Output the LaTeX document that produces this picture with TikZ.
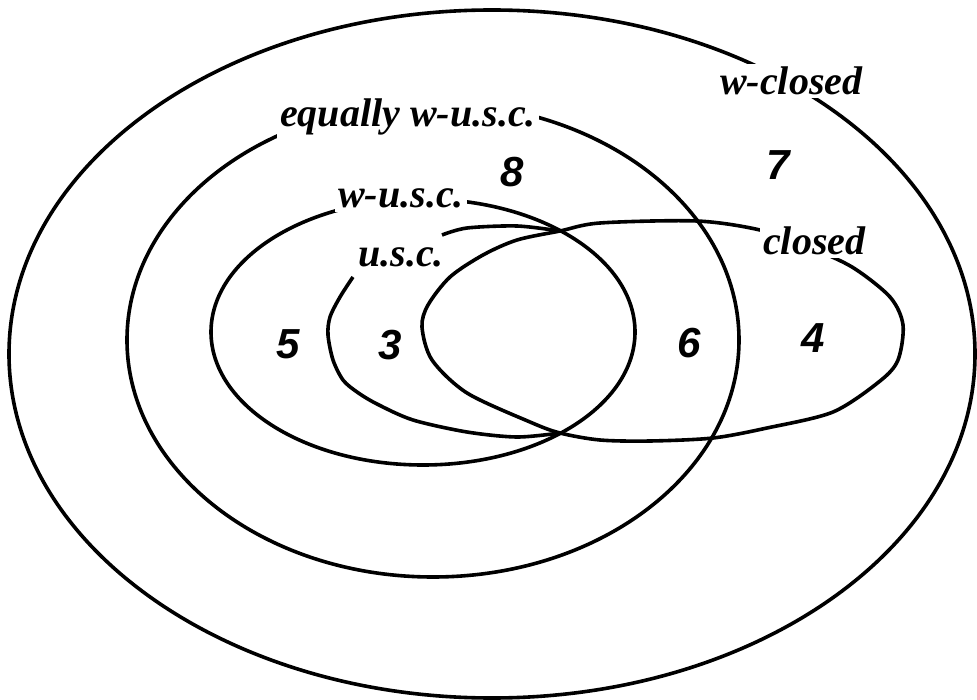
\documentclass[tikz,border=0pt]{standalone}
\usepackage{fontspec}
\setmainfont{Liberation Serif}
\newfontfamily\numfont{Liberation Sans}

\begin{document}
\begin{tikzpicture}[x=1pt, y=-1pt,
                    border/.style={line width=3.6pt, line join=round},
                    setname/.style={font=\fontsize{40}{44}\selectfont\bfseries\itshape, fill=white, inner sep=3pt, anchor=base west},
                    regnum/.style={font=\fontsize{42}{46}\selectfont\numfont\bfseries\itshape, inner sep=0pt}
                ]
\useasboundingbox (0,0) rectangle (977,700);

% Les classes
\draw[border] (492,354) ellipse [x radius=483, y radius=344];
\draw[border] (433,340) ellipse [x radius=306, y radius=237];
\draw[border] (423,332) ellipse [x radius=212, y radius=133];
\draw[border] plot[smooth cycle] coordinates {(560,231) (600,223) (697,221) (760,230) (806,246) (852,267) (890,297) (903,325) (898,360) (880,381) (833,412) (767,428) (713,438) (650,441) (600,440) (560,433) (530,422) (467,393) (432,360) (422,327) (428,305) (450,277) (483,255) (517,240)};
\draw[border] plot[smooth] coordinates {(442,235) (467,228) (517,226) (560,231)};
\draw[border] plot[smooth] coordinates {(353,277) (340,297) (330,317) (328,335) (333,360) (343,380) (357,392) (377,404) (413,420) (467,432) (517,437) (560,433)};

% Etiquettes
\node[setname] (wclosed) at (717,95) {w-closed};
\node[setname] (equsc) at (277,127) {equally w-u.s.c.};
\node[setname] (wusc) at (335,208) {w-u.s.c.};
\node[setname, fill=none] (usc) at (355,267) {u.s.c.};
\node[setname] (closed) at (760,255) {closed};

\node[regnum] (r8) at (512,172) {8};
\node[regnum] (r7) at (778,165) {7};
\node[regnum] (r6) at (689,343) {6};
\node[regnum] (r4) at (813,338) {4};
\node[regnum] (r5) at (288,344) {5};
\node[regnum] (r3) at (390,345) {3};

\end{tikzpicture}
\end{document}
